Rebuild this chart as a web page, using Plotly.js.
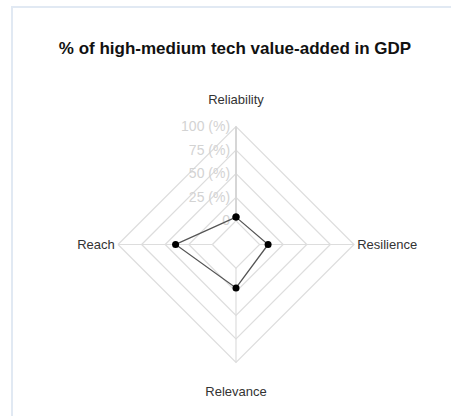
<!DOCTYPE html>
<html>
<head>
<meta charset="utf-8">
<script src="https://cdn.plot.ly/plotly-3.0.1.min.js"></script>
<style>
  html, body { margin: 0; padding: 0; background: #ffffff; }
  #wrap { position: relative; width: 451px; height: 416px; overflow: hidden; }
  #chart { position: absolute; left: 0; top: 0; width: 451px; height: 416px; }
  #frame { position: absolute; left: 11px; top: 6px; width: 460px; height: 430px;
           border-left: 2px solid #e1e9f3; border-top: 2px solid #e1e9f3; pointer-events: none; }
</style>
</head>
<body>
<div id="wrap">
  <div id="chart"></div>
  <div id="frame"></div>
</div>
<script>
const categories = ["Reliability", "Resilience", "Relevance", "Reach"];
const values = [4, 9, 21, 39];
const radialTickVals = [0, 25, 50, 75, 100];
const radialTickText = ["0", "25 (%)", "50 (%)", "75 (%)", "100 (%)"];
const chartTitle = "% of high-medium tech value-added in GDP";

const W = 451, H = 416;
const cx = 236, cy = 244.5, R = 118;

// top label gets an empty line below it, bottom label an empty line above it,
// so that they sit further out from the grid like in the reference
const angularTickText = categories.map(function (c, i) {
  if (i === 0) return c + "<br>&nbsp;";
  if (i === 2) return "&nbsp;<br>" + c;
  return c;
});

const trace = {
  type: "scatterpolar",
  r: values.concat([values[0]]),
  theta: categories.concat([categories[0]]),
  mode: "lines+markers",
  line: { color: "#555555", width: 1.3 },
  marker: { color: "#000000", size: 7 },
  cliponaxis: false,
  hoverinfo: "skip",
  showlegend: false
};

const layout = {
  width: W, height: H,
  margin: { l: 0, r: 0, t: 0, b: 0 },
  paper_bgcolor: "#ffffff",
  plot_bgcolor: "#ffffff",
  font: { family: "Liberation Sans, Arial, sans-serif", color: "#333333" },
  title: {
    text: "<b>" + chartTitle + "</b>",
    font: { size: 17, color: "#111111", family: "Liberation Sans, Arial, sans-serif" },
    x: 235 / W, xanchor: "center", xref: "container",
    y: 1 - 48 / H, yanchor: "middle", yref: "container"
  },
  polar: {
    domain: { x: [(cx - R) / W, (cx + R) / W], y: [(H - cy - R) / H, (H - cy + R) / H] },
    gridshape: "linear",
    hole: 0.2,
    bgcolor: "#ffffff",
    angularaxis: {
      direction: "clockwise",
      rotation: 90,
      categoryorder: "array",
      categoryarray: categories,
      tickmode: "array",
      tickvals: categories,
      ticktext: angularTickText,
      layer: "below traces",
      showline: true,
      linecolor: "#dddddd",
      linewidth: 1.2,
      gridcolor: "#dddddd",
      gridwidth: 1.2,
      ticks: "",
      tickfont: { size: 13, color: "#333333" }
    },
    radialaxis: {
      range: [0, 100],
      angle: 90,
      side: "counterclockwise",
      tickangle: 90,
      layer: "below traces",
      tickvals: radialTickVals,
      ticktext: radialTickText,
      tickfont: { size: 14, color: "#d3d3d3" },
      showline: true,
      linecolor: "#d6d6d6",
      linewidth: 2,
      gridcolor: "#dddddd",
      gridwidth: 1.2,
      ticks: ""
    }
  }
};

Plotly.newPlot("chart", [trace], layout, { displayModeBar: false, staticPlot: true });
</script>
</body>
</html>
